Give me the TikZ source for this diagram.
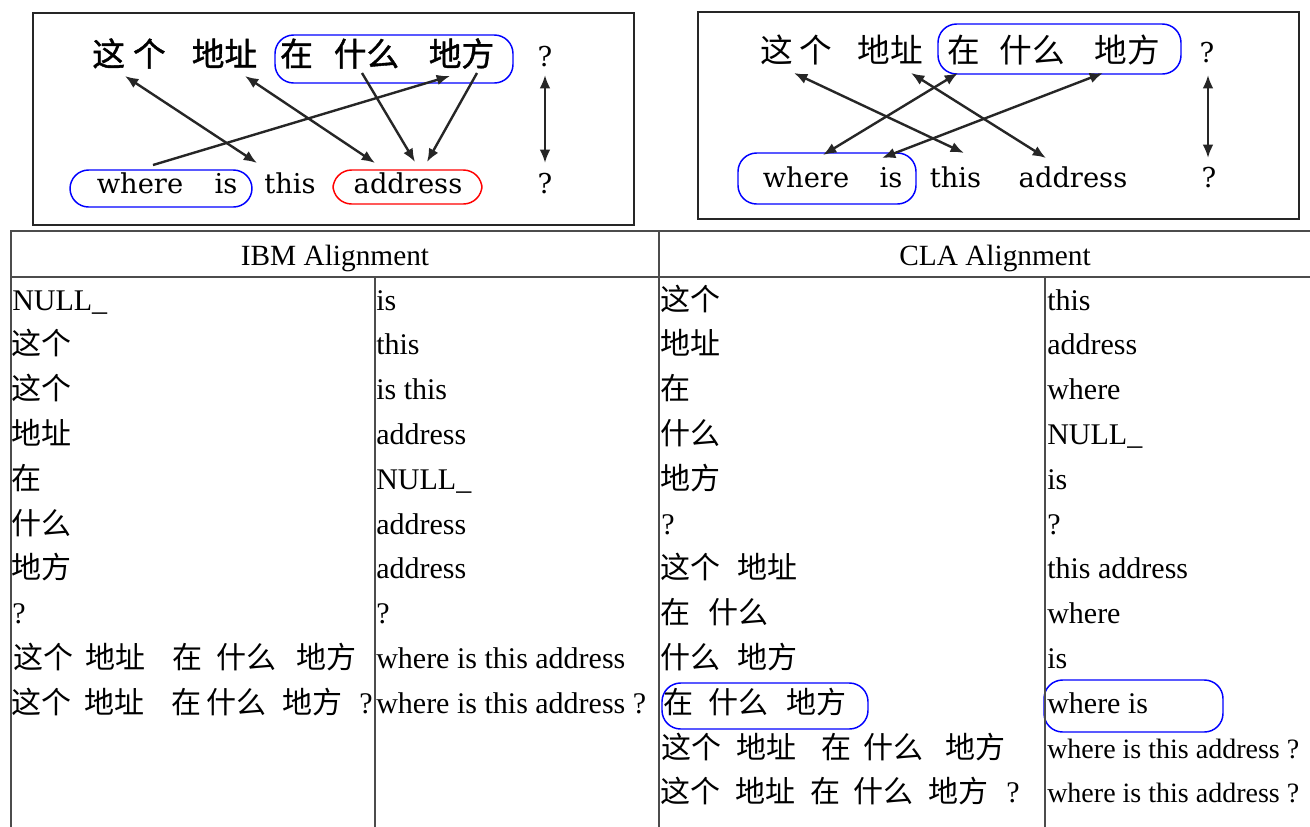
\documentclass[tikz,border=0pt]{standalone}
\usepackage{fontspec}
\setmainfont{Liberation Serif}
\newfontfamily\cjk{Noto Sans CJK SC}
\newfontfamily\cjkm[FakeBold=1.2]{Noto Sans CJK SC}
\newfontfamily\dvs{DejaVu Serif}
\usetikzlibrary{arrows.meta}
\newlength\px
\setlength\px{0.75pt}
\newcommand\wb[2]{\makebox[#1\px][l]{#2}}
\begin{document}
\begin{tikzpicture}[x=0.75pt,y=-0.75pt,
 tl/.style={font=\fontsize{22.5pt}{24pt}\selectfont, anchor=base west, inner sep=0pt},
 tlx/.style={tl, font=\fontsize{21pt}{24pt}\selectfont},
 tc/.style={font=\fontsize{22.5pt}{24pt}\selectfont\cjk, anchor=base west, inner sep=0pt},
 hd/.style={font=\fontsize{22pt}{24pt}\selectfont, anchor=base, inner sep=0pt},
 wc/.style={font=\fontsize{24.5pt}{26pt}\selectfont\cjk, anchor=base, inner sep=0pt},
 wcb/.style={wc, font=\fontsize{24.5pt}{26pt}\selectfont\cjkm},
 wl/.style={font=\fontsize{20.5pt}{24pt}\selectfont\dvs, anchor=base, inner sep=0pt},
 boxframe/.style={draw=black!85, line width=2.2pt},
 tgrid/.style={draw=black!70, line width=1.8pt},
 hl/.style={draw=blue, line width=1.1pt, rounded corners=14pt},
 hlr/.style={draw=red, line width=1.1pt, rounded corners=14pt},
 link/.style={line width=1.8pt, draw=black!85, {Latex[length=10pt,width=8pt]}-{Latex[length=10pt,width=8pt]}},
 linkone/.style={line width=1.8pt, draw=black!85, -{Latex[length=10pt,width=8pt]}}
]
\useasboundingbox (0,0) rectangle (1310,826);
\fill[white] (0,0) rectangle (1310,826);

% ---------- top-left diagram ----------
\draw[boxframe] (33,13) rectangle (634,225);
\node[wcb] (tlA) at (129,66) {这\hspace{6pt}个};
\node[wcb] (tlB) at (224.5,66) {地址};
\node[wcb] (tlC) at (296.5,66) {在};
\node[wcb] (tlD) at (366.5,66) {什么};
\node[wcb] (tlE) at (461.5,66) {地方};
\node[wl] (tlQa) at (545,66) {?};
\node[wl] (tlW) at (140,193) {where};
\node[wl] (tlI) at (226,193) {is};
\node[wl] (tlT) at (290,193) {this};
\node[wl] (tlAd) at (408,193) {address};
\node[wl] (tlQb) at (545,193) {?};
\draw[hl] (275,35) rectangle (513,83);
\draw[hl] (70,170) rectangle (252,207);
\draw[hlr] (333,170) rectangle (482,204);
\draw[link] ([shift={(-4,10)}]tlA.base) -- ([shift={(-33,-30)}]tlT.base);
\draw[link] ([shift={(20.5,10)}]tlB.base) -- ([shift={(-33,-30)}]tlAd.base);
\draw[linkone] ([shift={(13,-28)}]tlW.base) -- ([shift={(-11.5,10)}]tlE.base);
\draw[linkone] ([shift={(-4.5,7)}]tlD.base) -- ([shift={(7,-31)}]tlAd.base);
\draw[linkone] ([shift={(15.5,7)}]tlE.base) -- ([shift={(19,-31)}]tlAd.base);
\draw[link] ([shift={(0,9)}]tlQa.base) -- ([shift={(0,-30)}]tlQb.base);

% ---------- top-right diagram ----------
\draw[boxframe] (698,12) rectangle (1299,219);
\node[wc] (trA) at (796,62) {这\hspace{5pt}个};
\node[wc] (trB) at (890,62) {地址};
\node[wc] (trC) at (963.5,62) {在};
\node[wc] (trD) at (1032.5,62) {什么};
\node[wc] (trE) at (1127.5,62) {地方};
\node[wl] (trQa) at (1207,62) {?};
\node[wl] (trW) at (806,187) {where};
\node[wl] (trI) at (891,187) {is};
\node[wl] (trT) at (955.5,187) {this};
\node[wl] (trAd) at (1073,187) {address};
\node[wl] (trQb) at (1209,187) {?};
\draw[hl] (938,24) rectangle (1181,74);
\draw[hl] (738,153) rectangle (916,204);
\draw[link] ([shift={(-2,11)}]trA.base) -- ([shift={(8.5,-34)}]trT.base);
\draw[link] ([shift={(21,11)}]trB.base) -- ([shift={(-27,-29)}]trAd.base);
\draw[link] ([shift={(-5.5,11)}]trC.base) -- ([shift={(17,-32)}]trW.base);
\draw[link] ([shift={(-24.5,11)}]trE.base) -- ([shift={(-9,-29)}]trI.base);
\draw[link] ([shift={(1,13)}]trQa.base) -- ([shift={(-1,-29)}]trQb.base);

% ---------- table headers ----------
\node[hd] (hIBM) at (335,265) {IBM Alignment};
\node[hd] (hCLA) at (995,265) {CLA Alignment};

% ---------- IBM left ----------
\node[tl] (i1l) at (12,310) {NULL\_};
\node[tc] (i2l) at (11,354.8) {这个};
\node[tc] (i3l) at (11,399.6) {这个};
\node[tc] (i4l) at (11,444.4) {地址};
\node[tc] (i5l) at (11,489.2) {在};
\node[tc] (i6l) at (11,534) {什么};
\node[tc] (i7l) at (11,578.8) {地方};
\node[tl] (i8l) at (12,623.6) {?};
\node[tc] (i9l) at (13,668.4) {\wb{72}{这个}\wb{87}{地址}\wb{44}{在}\wb{80}{什么}地方};
\node[tc] (i10l) at (11,713.2) {\wb{73}{这个}\wb{87}{地址}\wb{35}{在}\wb{76}{什么}\wb{77}{地方}{\rmfamily ?}};

% ---------- IBM right ----------
\node[tl] (i1r) at (376,310) {is};
\node[tl] (i2r) at (376,354.8) {this};
\node[tl] (i3r) at (376,399.6) {is this};
\node[tl] (i4r) at (376,444.4) {address};
\node[tl] (i5r) at (376,489.2) {NULL\_};
\node[tl] (i6r) at (376,534) {address};
\node[tl] (i7r) at (376,578.8) {address};
\node[tl] (i8r) at (376,623.6) {?};
\node[tl] (i9r) at (376,668.4) {where is this address};
\node[tl] (i10r) at (376,713.2) {where is this address ?};

% ---------- CLA left ----------
\node[tc] (c1l) at (660,310) {这个};
\node[tc] (c2l) at (660,354.8) {地址};
\node[tc] (c3l) at (660,399.6) {在};
\node[tc] (c4l) at (660,444.4) {什么};
\node[tc] (c5l) at (660,489.2) {地方};
\node[tl] (c6l) at (661,534) {?};
\node[tc] (c7l) at (660,578.8) {\wb{77}{这个}地址};
\node[tc] (c8l) at (660,623.6) {\wb{48}{在}什么};
\node[tc] (c9l) at (660,668.4) {\wb{77}{什么}地方};
\node[tc] (c10l) at (663,713.2) {\wb{45}{在}\wb{78}{什么}地方};
\node[tc] (c11l) at (661,758) {\wb{75}{这个}\wb{85}{地址}\wb{42}{在}\wb{82}{什么}地方};
\node[tc] (c12l) at (660,802.8) {\wb{75}{这个}\wb{75}{地址}\wb{43}{在}\wb{75}{什么}\wb{78}{地方}{\rmfamily ?}};

% ---------- CLA right ----------
\node[tl] (c1r) at (1047,310) {this};
\node[tl] (c2r) at (1047,354.8) {address};
\node[tl] (c3r) at (1047,399.6) {where};
\node[tl] (c4r) at (1047,444.4) {NULL\_};
\node[tl] (c5r) at (1047,489.2) {is};
\node[tl] (c6r) at (1047,534) {?};
\node[tl] (c7r) at (1047,578.8) {this address};
\node[tl] (c8r) at (1047,623.6) {where};
\node[tl] (c9r) at (1047,668.4) {is};
\node[tl] (c10r) at (1047,713.2) {where is};
\node[tlx] (c11r) at (1047,758) {where is this address ?};
\node[tlx] (c12r) at (1047,802.8) {where is this address ?};

\draw[hl] (662,683) rectangle (868,729);
\draw[hl] (1044,680) rectangle (1223,732);

% ---------- table rules ----------
\draw[tgrid] (10,231) -- (1312,231);
\draw[tgrid] (10,277) -- (1312,277);
\draw[tgrid] (11,230) -- (11,830);
\draw[tgrid] (659,230) -- (659,830);
\draw[tgrid] (375,277) -- (375,830);
\draw[tgrid] (1045,277) -- (1045,830);
\end{tikzpicture}
\end{document}
